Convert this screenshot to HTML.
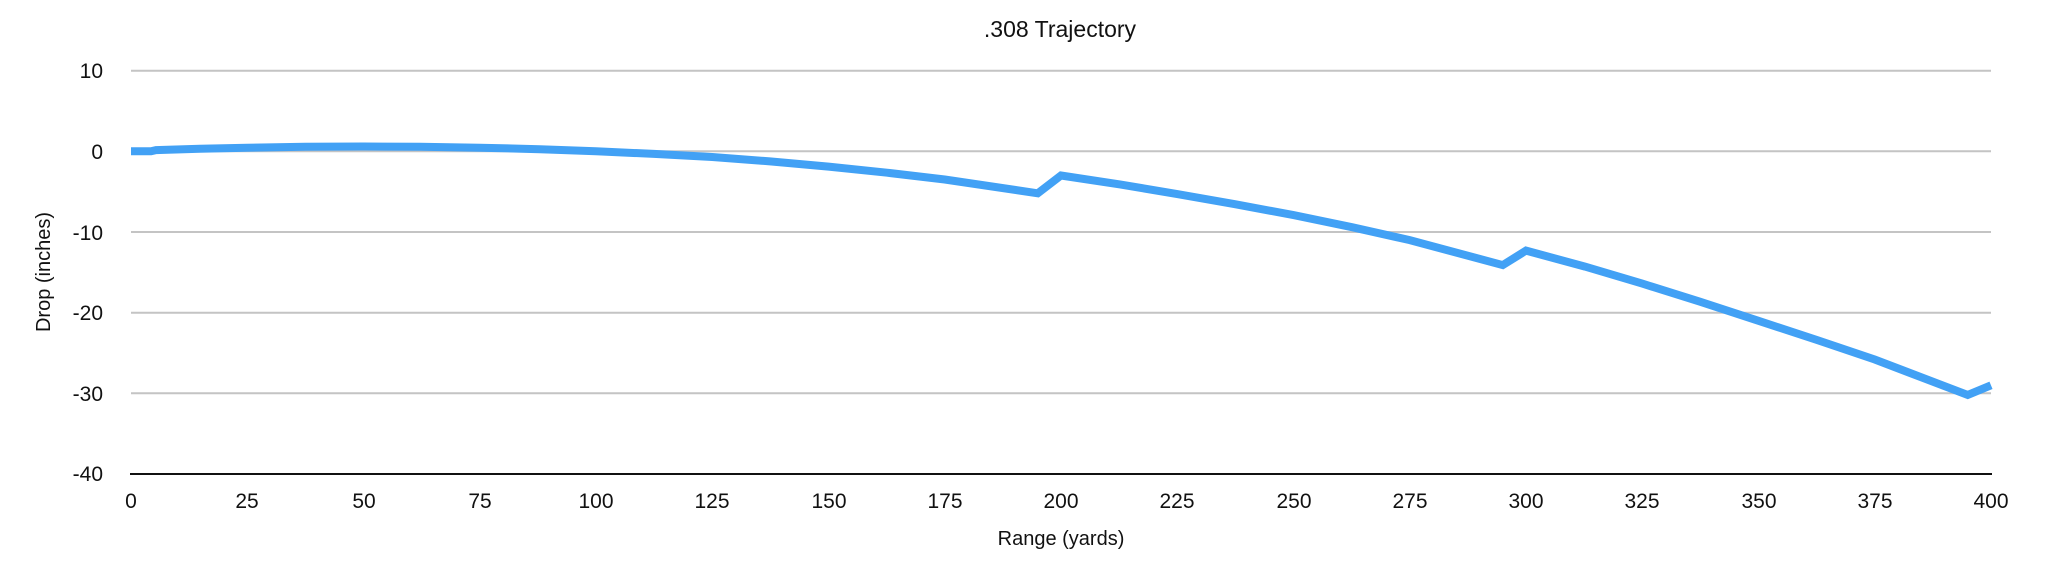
<!DOCTYPE html>
<html><head><meta charset="utf-8"><style>
html,body{margin:0;padding:0;background:#fff;}
svg{display:block;font-family:"Liberation Sans",Arial,sans-serif;}
</style></head><body>
<svg width="2048" height="580" viewBox="0 0 2048 580">
<text x="1060" y="37" font-size="23" text-anchor="middle" fill="#111">.308 Trajectory</text>
<g stroke="#c4c4c4" stroke-width="2">
<line x1="131" y1="70.7" x2="1991" y2="70.7"/>
<line x1="131" y1="151.3" x2="1991" y2="151.3"/>
<line x1="131" y1="232" x2="1991" y2="232"/>
<line x1="131" y1="312.7" x2="1991" y2="312.7"/>
<line x1="131" y1="393.3" x2="1991" y2="393.3"/>
</g>
<line x1="130" y1="474" x2="1992" y2="474" stroke="#111" stroke-width="2"/>
<g font-size="21" fill="#111" text-anchor="end">
<text x="103" y="78">10</text>
<text x="103" y="159">0</text>
<text x="103" y="240">-10</text>
<text x="103" y="320">-20</text>
<text x="103" y="401">-30</text>
<text x="103" y="481">-40</text>
</g>
<g font-size="21" fill="#111" text-anchor="middle">
<text x="131" y="508">0</text><text x="247" y="508">25</text><text x="364" y="508">50</text>
<text x="480" y="508">75</text><text x="596" y="508">100</text><text x="712" y="508">125</text>
<text x="829" y="508">150</text><text x="945" y="508">175</text><text x="1061" y="508">200</text>
<text x="1177" y="508">225</text><text x="1294" y="508">250</text><text x="1410" y="508">275</text>
<text x="1526" y="508">300</text><text x="1642" y="508">325</text><text x="1759" y="508">350</text>
<text x="1875" y="508">375</text><text x="1991" y="508">400</text>
</g>
<text x="1061" y="545" font-size="20" text-anchor="middle" fill="#111">Range (yards)</text>
<text transform="translate(50,272) rotate(-90)" font-size="20" text-anchor="middle" fill="#111">Drop (inches)</text>
<polyline fill="none" stroke="#42a1f5" stroke-width="8" stroke-linejoin="miter" points="131,151.3 151,151.3 156,150.1 200,148.8 247.25,147.7 305,146.8 363.5,146.5 420,146.8 479.75,147.7 540,149.2 596,151.3 654,153.9 712.25,157 770,161.4 828.5,166.6 887,172.7 944.75,179.5 1037.75,193.3 1061,175.5 1120,184.4 1177.25,194.1 1235,204.2 1293.5,215.1 1352,227.2 1409.75,240.1 1502.75,265.1 1526,250.6 1585,266.6 1642.25,283.6 1700,301.7 1758.5,320.8 1817,340 1874.75,359.5 1967.75,395 1991,385.3"/>
</svg>
</body></html>
